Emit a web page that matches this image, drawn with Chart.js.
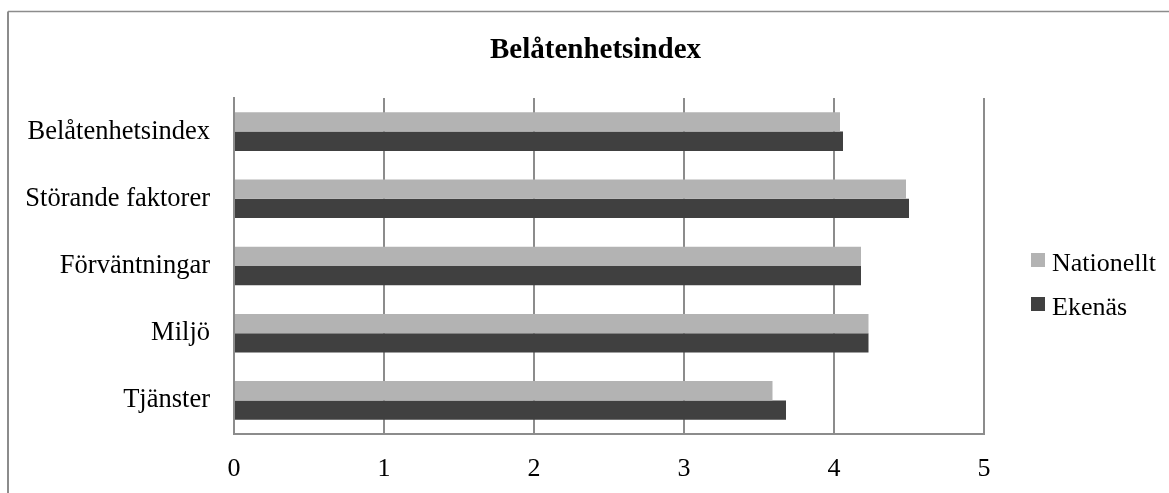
<!DOCTYPE html>
<html>
<head>
<meta charset="utf-8">
<script src="https://cdn.jsdelivr.net/npm/chart.js@4/dist/chart.umd.min.js"></script>
<style>
  html, body { margin: 0; padding: 0; background: #fff; }
  #wrap { width: 1169px; height: 493px; position: relative; }
</style>
</head>
<body>
<div id="wrap"><canvas id="c" width="1169" height="493"></canvas></div>
<script>
const categories = ['Belåtenhetsindex', 'Störande faktorer', 'Förväntningar', 'Miljö', 'Tjänster'];
const nationellt = [4.04, 4.48, 4.18, 4.23, 3.59];
const ekenas = [4.06, 4.50, 4.18, 4.23, 3.68];
const xTicks = [0, 1, 2, 3, 4, 5];
const chartTitle = 'Belåtenhetsindex';
const seriesNames = ['Nationellt', 'Ekenäs'];
const seriesColors = ['#b3b3b3', '#404040'];

const SERIF = '"Liberation Serif", "Times New Roman", serif';
const LINE = '#8c8c8c';

// Frame, title and a custom legend drawn onto the chart canvas
const decor = {
  id: 'decor',
  beforeDraw(chart) {
    const ctx = chart.ctx;
    ctx.save();
    ctx.fillStyle = '#fff';
    ctx.fillRect(0, 0, chart.width, chart.height);
    ctx.strokeStyle = LINE;
    ctx.lineWidth = 2;
    ctx.beginPath();
    ctx.moveTo(8, chart.height);
    ctx.lineTo(8, 11.5);
    ctx.stroke();
    ctx.lineWidth = 1.5;
    ctx.beginPath();
    ctx.moveTo(8, 11.5);
    ctx.lineTo(chart.width, 11.5);
    ctx.stroke();
    ctx.restore();
  },
  afterDraw(chart) {
    const ctx = chart.ctx;
    ctx.save();
    ctx.fillStyle = '#000';
    ctx.textBaseline = 'alphabetic';
    ctx.textAlign = 'center';
    ctx.font = 'bold 29px ' + SERIF;
    ctx.fillText(chartTitle, 595.5, 58);

    ctx.textAlign = 'left';
    ctx.font = '26px ' + SERIF;
    const rows = [271, 315];
    chart.data.datasets.forEach((ds, i) => {
      const base = rows[i];
      ctx.fillStyle = ds.backgroundColor;
      ctx.fillRect(1031, base - 18, 14, 14);
      ctx.fillStyle = '#000';
      ctx.fillText(ds.label, 1052, base);
    });
    ctx.restore();
  }
};

new Chart(document.getElementById('c'), {
  type: 'bar',
  data: {
    labels: categories,
    datasets: [
      { label: seriesNames[0], data: nationellt, backgroundColor: seriesColors[0] },
      { label: seriesNames[1], data: ekenas, backgroundColor: seriesColors[1] }
    ]
  },
  options: {
    indexAxis: 'y',
    responsive: false,
    animation: false,
    devicePixelRatio: 1,
    categoryPercentage: 0.575,
    barPercentage: 1.0,
    layout: { padding: { left: 0, top: 98, right: 185, bottom: 0 } },
    plugins: {
      legend: { display: false },
      title: { display: false },
      tooltip: { enabled: false }
    },
    scales: {
      x: {
        min: 0,
        max: 5,
        afterBuildTicks(scale) { scale.ticks = xTicks.map(v => ({ value: v })); },
        afterFit(scale) { scale.height = 59; },
        grid: { color: LINE, lineWidth: 2, drawTicks: false, tickLength: 0 },
        border: { display: true, color: LINE, width: 2 },
        ticks: {
          color: '#000',
          padding: 20,
          font: { family: SERIF, size: 26 }
        }
      },
      y: {
        afterFit(scale) { scale.width = 234; },
        grid: { display: false, drawTicks: false, tickLength: 0 },
        border: { display: true, color: LINE, width: 2 },
        ticks: {
          color: '#000',
          padding: 24,
          font: { family: SERIF, size: 26.5 }
        }
      }
    }
  },
  plugins: [decor]
});
</script>
</body>
</html>
